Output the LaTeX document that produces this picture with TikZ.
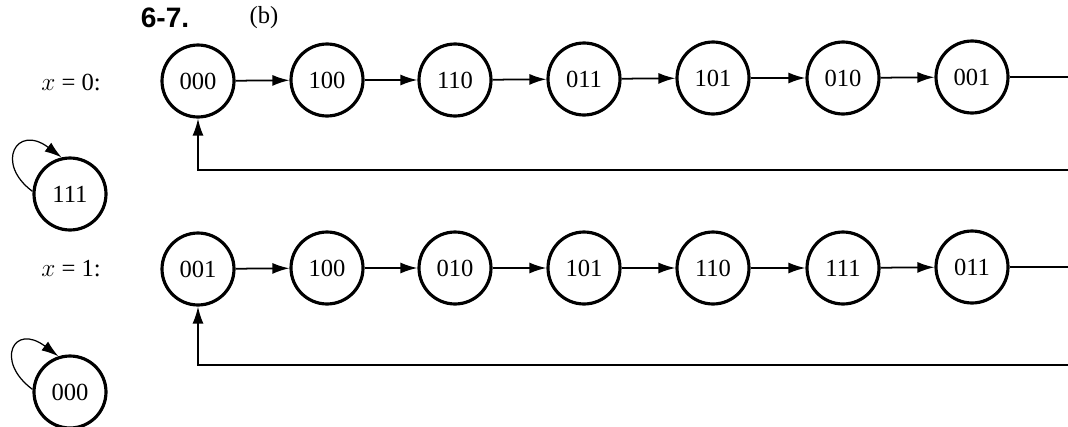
\documentclass[tikz,border=0pt]{standalone}
\usepackage{fontspec}
\setmainfont{Liberation Serif}
\setsansfont{Liberation Sans}
\usetikzlibrary{arrows.meta}
\tikzset{
	state/.style={draw, circle, line width=1.8pt, minimum size=1.44cm, inner sep=0pt, font=\fontsize{14}{16}\selectfont},
	lbl/.style={font=\fontsize{14}{16}\selectfont},
	link/.style={-{Latex[length=3.4mm,width=2.2mm]}, line width=1pt},
}
\begin{document}
\begin{tikzpicture}[x=0.02cm, y=-0.02cm]
	\useasboundingbox (0,0) rectangle (1068,426);
	% Tiêu đề
	\node[font=\sffamily\bfseries\fontsize{16}{18}\selectfont] (so) at (165,18) {6-7.};
	\node[lbl] (phan) at (264,18) {(b)};
	
	% Nhãn các hàng
	\node[lbl] (nx0) at (71,82) {$x$ = 0:};
	\node[lbl] (nx1) at (71,269) {$x$ = 1:};
	
	% Hàng x = 0
	\node[state] (a0) at (198,81) {000};
	\node[state] (a1) at (327,80) {100};
	\node[state] (a2) at (455,80) {110};
	\node[state] (a3) at (584,79) {011};
	\node[state] (a4) at (713,78) {101};
	\node[state] (a5) at (843,78) {010};
	\node[state] (a6) at (972,77) {001};
	\coordinate (ra) at (1068,77);
	\coordinate (rb) at (1068,170);
	\foreach \i/\j in {0/1,1/2,2/3,3/4,4/5,5/6}
		\draw[link] (a\i) -- (a\j);
	\draw[line width=1pt] (a6) -- (ra);
	\draw[link] (rb) -| (a0);
	
	% Trạng thái 111
	\node[state] (s0) at (70,194) {111};
	\draw[link, line width=0.7pt] (s0.176) .. controls +(-38,-28) and +(-45,-34) .. (s0.103);
	
	% Hàng x = 1
	\node[state] (b0) at (198,269) {001};
	\node[state] (b1) at (327,268) {100};
	\node[state] (b2) at (455,268) {010};
	\node[state] (b3) at (584,268) {101};
	\node[state] (b4) at (713,268) {110};
	\node[state] (b5) at (843,268) {111};
	\node[state] (b6) at (972,267) {011};
	\coordinate (rc) at (1068,267);
	\coordinate (rd) at (1068,365);
	\foreach \i/\j in {0/1,1/2,2/3,3/4,4/5,5/6}
		\draw[link] (b\i) -- (b\j);
	\draw[line width=1pt] (b6) -- (rc);
	\draw[link] (rd) -| (b0);
	
	% Trạng thái 000
	\node[state] (s1) at (70,392) {000};
	\draw[link, line width=0.7pt] (s1.176) .. controls +(-38,-28) and +(-45,-34) .. (s1.108);
\end{tikzpicture}
\end{document}
